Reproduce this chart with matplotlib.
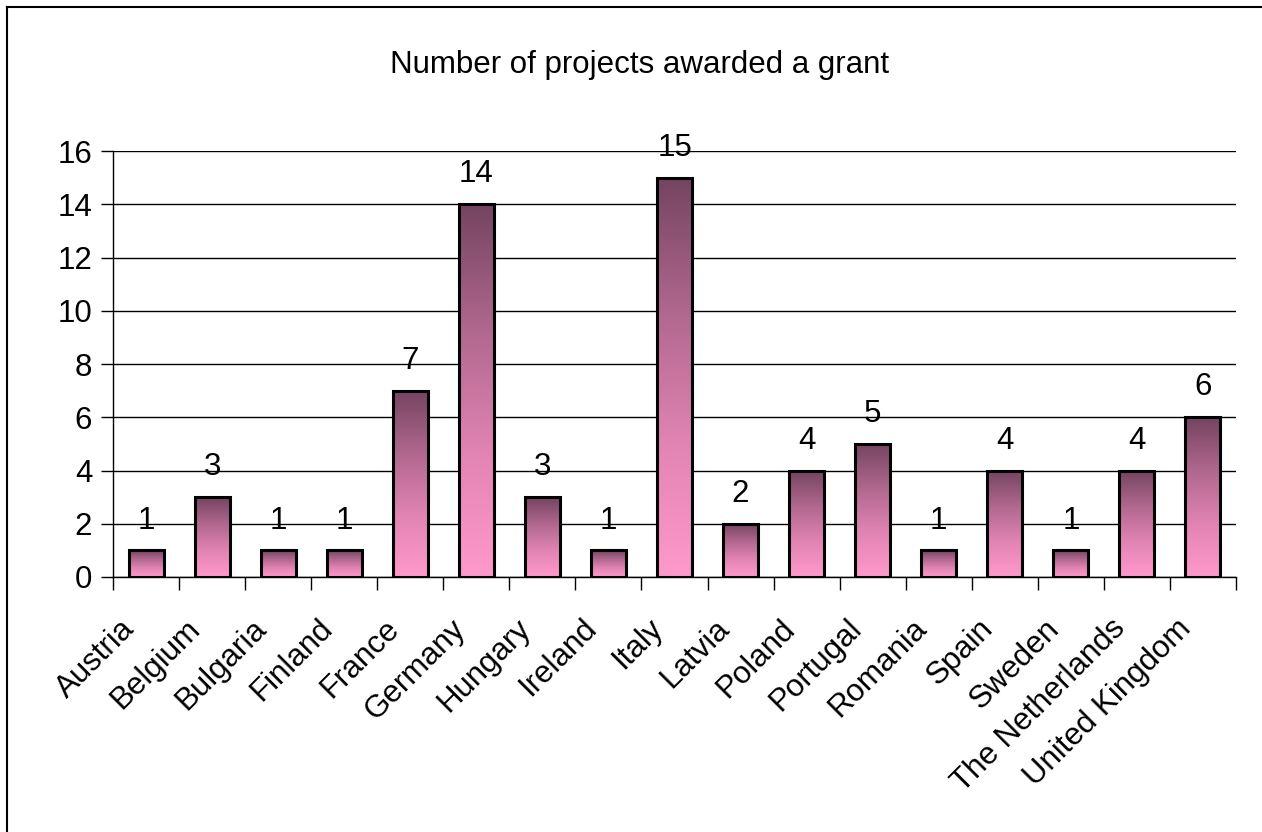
import matplotlib
matplotlib.use('Agg')
import matplotlib.pyplot as plt
import matplotlib.transforms as mtransforms
import numpy as np
from matplotlib.colors import LinearSegmentedColormap
from matplotlib.lines import Line2D

plt.rcParams['font.family'] = ['Liberation Sans', 'DejaVu Sans']

countries = ['Austria', 'Belgium', 'Bulgaria', 'Finland', 'France', 'Germany',
             'Hungary', 'Ireland', 'Italy', 'Latvia', 'Poland', 'Portugal',
             'Romania', 'Spain', 'Sweden', 'The Netherlands', 'United Kingdom']
projects = [1, 3, 1, 1, 7, 14, 3, 1, 15, 2, 4, 5, 1, 4, 1, 4, 6]
yticks = [0, 2, 4, 6, 8, 10, 12, 14, 16]

grad = LinearSegmentedColormap.from_list('pinkgrad', ['#ff99cc', '#e184b3', '#b0678e', '#744460'])

fig = plt.figure(figsize=(12.62, 8.32), dpi=100)
ax = fig.add_axes([113 / 1262, 1 - 577 / 832, (1236 - 113) / 1262, (577 - 151) / 832])

width = 0.53
x = np.arange(len(countries))
g = np.linspace(0, 1, 256).reshape(-1, 1)
for xi, v in zip(x, projects):
    ax.imshow(g, cmap=grad, origin='lower', aspect='auto',
              extent=(xi - width / 2, xi + width / 2, 0, v), zorder=2)
ax.bar(x, projects, width=width, facecolor='none', edgecolor='black',
       linewidth=2.2, zorder=3)
for xi, v in zip(x, projects):
    ax.text(xi, v + 0.82, str(v), ha='center', va='baseline', fontsize=22.5)

ax.set_xlim(-0.5, len(countries) - 0.5)
ax.set_ylim(0, 16)
ax.set_yticks(yticks)
ax.tick_params(axis='y', labelsize=22.5, length=9, width=1, direction='out', pad=6)
ax.yaxis.grid(True, color='black', linewidth=1)
ax.set_axisbelow(True)

ax.set_xticks(x)
ax.set_xticklabels(countries, rotation=45, ha='right', va='center',
                   rotation_mode='anchor', fontsize=22.5)
ax.tick_params(axis='x', which='major', length=0, pad=0)
shift = mtransforms.ScaledTranslation(-16 / 100, -47 / 100, fig.dpi_scale_trans)
for lab in ax.get_xticklabels():
    lab.set_transform(lab.get_transform() + shift)
ax.set_xticks(np.arange(-0.5, len(countries), 1), minor=True)
ax.tick_params(axis='x', which='minor', length=9, width=1, direction='out')

for s in ['top', 'right']:
    ax.spines[s].set_visible(False)
for s in ['left', 'bottom']:
    ax.spines[s].set_linewidth(1)
    ax.spines[s].set_color('black')

fig.text(640 / 1262, 1 - 65 / 832, 'Number of projects awarded a grant',
         ha='center', va='center', fontsize=22.5)

# outer chart frame (left and top edges visible)
fig.add_artist(Line2D([7 / 1262, 7 / 1262], [0, 1 - 7 / 832], color='black', linewidth=1.5,
                      transform=fig.transFigure))
fig.add_artist(Line2D([7 / 1262, 1], [1 - 7 / 832, 1 - 7 / 832], color='black', linewidth=1.5,
                      transform=fig.transFigure))

fig.savefig('out.png', dpi=100)
